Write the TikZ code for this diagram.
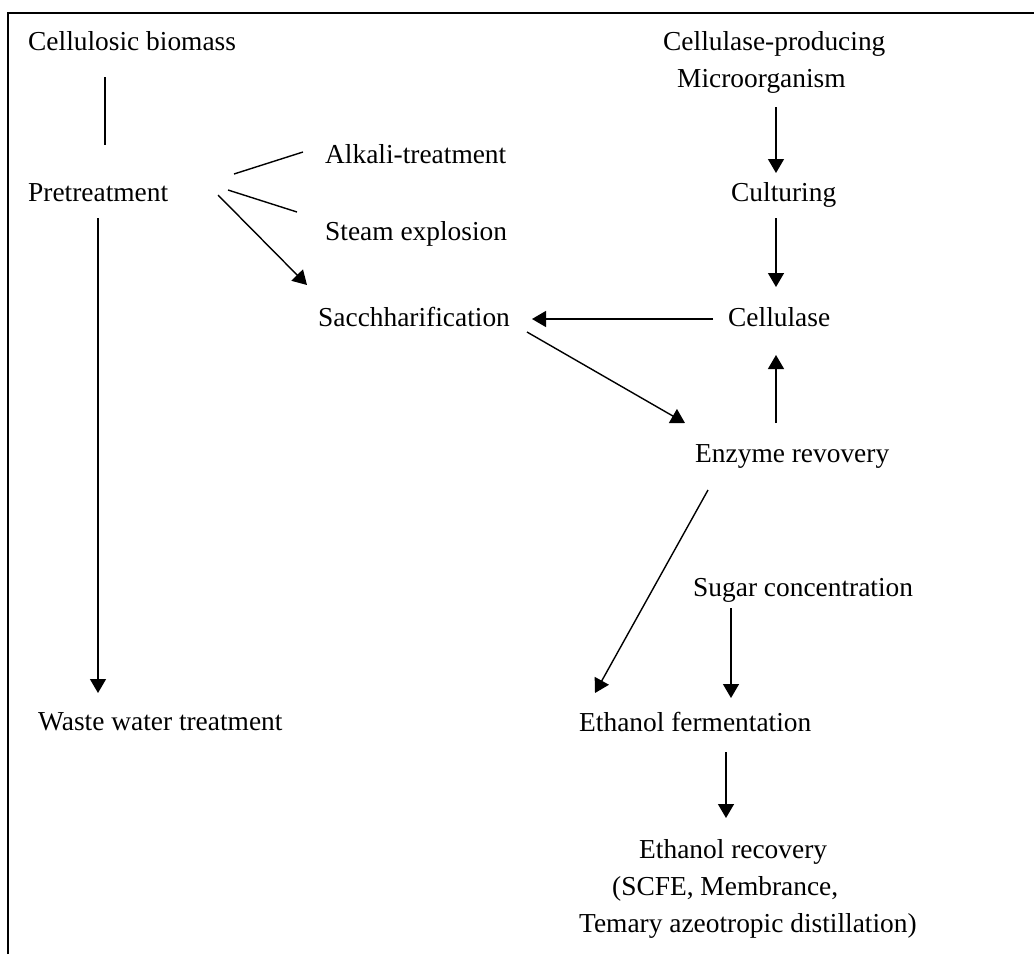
\documentclass[tikz,border=0pt]{standalone}
\usepackage{fontspec}
\setmainfont{Liberation Serif}
\usetikzlibrary{arrows.meta,calc}
\begin{document}
\begin{tikzpicture}[x=1pt,y=-1pt,
  lbl/.style={inner sep=0pt,anchor=base west,font=\fontsize{27.4}{37}\selectfont},
  ln/.style={line width=1.4pt},
  arr/.style={line width=1.4pt,-{Triangle[length=14pt,width=16pt]}},
  frame/.style={line width=2pt}]
\useasboundingbox (0,0) rectangle (1034,954);
\draw[frame] (8,954) -- (8,13) -- (1034,13);
% left column
\node[lbl] (bio) at (28,50) {Cellulosic biomass};
\node[lbl] (pre) at (28,201) {Pretreatment};
\node[lbl] (alk) at (325,163) {Alkali-treatment};
\node[lbl] (steam) at (325,240) {Steam explosion};
\node[lbl] (sac) at (318,326) {Sacchharification};
\node[lbl] (waste) at (38,730) {Waste water treatment};
% right column
\node[lbl,align=left] (cp) at (663,87) {Cellulase-producing\\\hspace*{14pt}Microorganism};
\node[lbl] (cult) at (731,201) {Culturing};
\node[lbl] (cell) at (728,326) {Cellulase};
\node[lbl] (enz) at (695,462) {Enzyme revovery};
\node[lbl] (sugar) at (693,596) {Sugar concentration};
\node[lbl] (ferm) at (579,731) {Ethanol fermentation};
\node[lbl,align=left] (rec) at (579,932) {\hspace*{60pt}Ethanol recovery\\\hspace*{33pt}(SCFE, Membrance,\\Temary azeotropic distillation)};
% connectors
\draw[ln] ($(bio.base west)+(77,27)$) -- ($(pre.base west)+(77,-56)$);
\draw[ln] ($(pre.base west)+(206,-27)$) -- ($(alk.base west)+(-22,-11)$);
\draw[ln] ($(pre.base west)+(200,-11)$) -- ($(steam.base west)+(-28,-28)$);
\draw[arr] ($(pre.base west)+(190,-6)$) -- ($(sac.base west)+(-11,-41)$);
\draw[arr] ($(pre.base west)+(70,17)$) -- ($(waste.base west)+(60,-37)$);
\draw[arr] ($(cp.base west)+(113,20)$) -- ($(cult.base west)+(45,-28)$);
\draw[arr] ($(cult.base west)+(45,17)$) -- ($(cell.base west)+(48,-39)$);
\draw[arr] ($(cell.base west)+(-15,-7)$) -- ($(sac.base west)+(214,-7)$);
\draw[arr] ($(sac.base west)+(209,6)$) -- ($(enz.base west)+(-10,-39)$);
\draw[arr] ($(enz.base west)+(81,-39)$) -- ($(cell.base west)+(48,29)$);
\draw[arr] ($(enz.base west)+(13,28)$) -- ($(ferm.base west)+(16,-38)$);
\draw[arr] ($(sugar.base west)+(38,12)$) -- ($(ferm.base west)+(152,-33)$);
\draw[arr] ($(ferm.base west)+(147,21)$) -- ($(rec.base west)+(147,-114)$);
\end{tikzpicture}
\end{document}
